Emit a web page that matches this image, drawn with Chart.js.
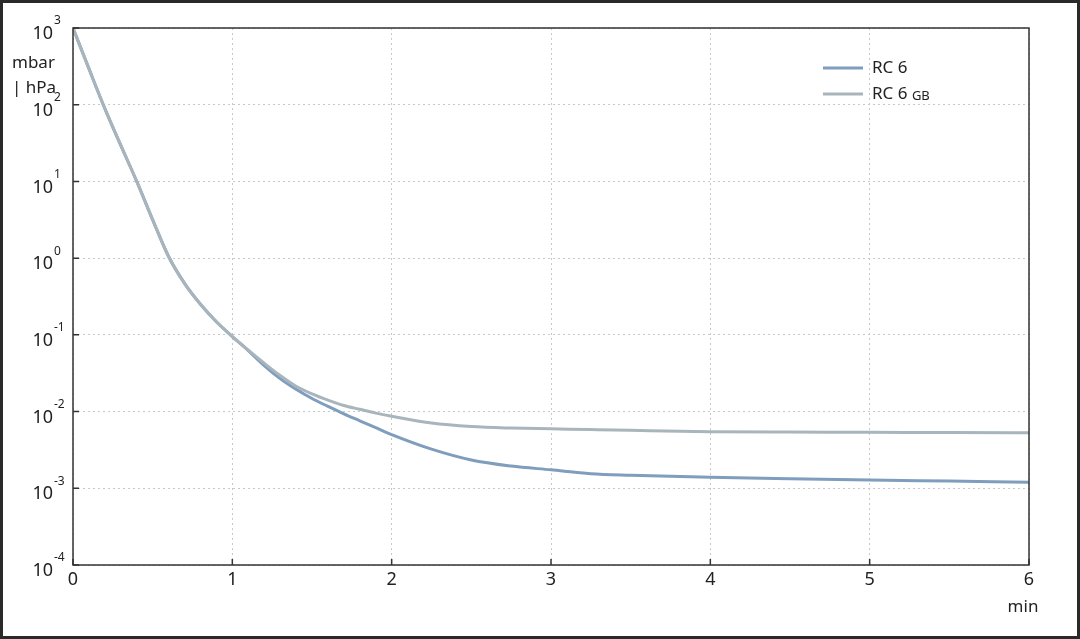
<!DOCTYPE html>
<html>
<head>
<meta charset="utf-8">
<script src="https://cdn.jsdelivr.net/npm/chart.js@4.4.1/dist/chart.umd.min.js"></script>
<style>
  html, body { margin: 0; padding: 0; background: #fff; }
  #wrap { width: 1080px; height: 639px; position: relative; }
</style>
</head>
<body>
<div id="wrap"><canvas id="pumpDown" width="1080" height="639"></canvas></div>
<script>
// pump-down time (min)
const times = [0, 0.1, 0.2, 0.3, 0.4, 0.5, 0.6, 0.7, 0.8, 0.9, 1.0, 1.1, 1.2, 1.3, 1.4, 1.5, 1.6, 1.7, 1.8, 1.9, 2.0, 2.25, 2.5, 2.75, 3.0, 3.25, 3.5, 4, 4.5, 5, 5.5, 6];
// pressure, mbar
const rc6 = [1000, 295, 89, 29.5, 10, 3.16, 1.05, 0.468, 0.25, 0.148, 0.095, 0.0625, 0.0398, 0.0269, 0.0195, 0.0148, 0.0117, 0.00933, 0.00759, 0.00617, 0.00501, 0.00324, 0.00234, 0.00195, 0.00174, 0.00155, 0.00148, 0.00139, 0.00133, 0.00128, 0.00124, 0.0012];
const rc6gb = [1000, 295, 89, 29.5, 10, 3.16, 1.05, 0.468, 0.25, 0.148, 0.095, 0.0631, 0.0427, 0.0295, 0.0214, 0.017, 0.0141, 0.012, 0.0107, 0.00955, 0.00871, 0.00708, 0.00638, 0.0061, 0.00596, 0.00582, 0.00569, 0.00547, 0.0054, 0.00537, 0.00533, 0.00531];
const seriesNames = ['RC 6', 'RC 6 GB'];
const seriesColors = ['#7f9dbd', '#a9b5bd'];
const xTicks = [0, 1, 2, 3, 4, 5, 6];
const yTicks = [1e-4, 1e-3, 1e-2, 1e-1, 1e0, 1e1, 1e2, 1e3];

const FONT = '"Noto Sans", "Open Sans", sans-serif';
const TEXT = '#222';

/**
 * Draws frame, box, inward ticks, tick labels with exponents and the legend
 */
const decorations = {
    id: 'decorations',
    afterDraw(chart) {
        const ctx = chart.ctx;
        const area = chart.chartArea;
        const xs = chart.scales.x;
        const ys = chart.scales.y;
        ctx.save();

        // outer frame
        ctx.strokeStyle = '#2a2a2a';
        ctx.lineWidth = 3;
        ctx.strokeRect(1.5, 1.5, chart.width - 3, chart.height - 3);

        // plot box
        ctx.strokeStyle = '#333';
        ctx.lineWidth = 1.5;
        ctx.strokeRect(area.left, area.top, area.right - area.left, area.bottom - area.top);

        // inward tick marks
        ctx.beginPath();
        xTicks.forEach(v => {
            const px = xs.getPixelForValue(v);
            ctx.moveTo(px, area.bottom);
            ctx.lineTo(px, area.bottom - 6);
        });
        yTicks.forEach(v => {
            const py = ys.getPixelForValue(v);
            ctx.moveTo(area.left, py);
            ctx.lineTo(area.left + 6, py);
        });
        ctx.stroke();

        ctx.fillStyle = TEXT;

        // x tick labels
        ctx.font = '18px ' + FONT;
        ctx.textAlign = 'center';
        ctx.textBaseline = 'middle';
        xTicks.forEach(v => {
            ctx.fillText(String(v), xs.getPixelForValue(v), area.bottom + 15);
        });
        ctx.font = '17px ' + FONT;
        ctx.fillText('min', xs.getPixelForValue(6) - 6, area.bottom + 42);

        // y tick labels as 10^n
        yTicks.forEach(v => {
            const py = ys.getPixelForValue(v);
            const exp = Math.round(Math.log10(v));
            ctx.font = '18px ' + FONT;
            ctx.textAlign = 'right';
            ctx.textBaseline = 'middle';
            ctx.fillText('10', area.left - 20, py + 6);
            ctx.font = '12px ' + FONT;
            ctx.textAlign = 'left';
            ctx.fillText(String(exp), area.left - 19, py - 7);
        });

        // unit label
        ctx.font = '17px ' + FONT;
        ctx.textAlign = 'left';
        ctx.fillText('mbar', 12, 63);
        ctx.fillText('| hPa', 12, 88);

        // legend
        const lx = 823, ly = 68, gap = 26;
        chart.data.datasets.forEach((ds, i) => {
            const y = ly + i * gap;
            ctx.strokeStyle = ds.borderColor;
            ctx.lineWidth = 3;
            ctx.beginPath();
            ctx.moveTo(lx, y);
            ctx.lineTo(lx + 40, y);
            ctx.stroke();
            ctx.fillStyle = TEXT;
            ctx.font = '17px ' + FONT;
            ctx.textAlign = 'left';
            ctx.fillText('RC 6', lx + 49, y);
            if (i === 1) {
                const w = ctx.measureText('RC 6 ').width;
                ctx.font = '13px ' + FONT;
                ctx.fillText('GB', lx + 49 + w, y + 2);
            }
        });

        ctx.restore();
    }
};

const ctx = document.getElementById('pumpDown').getContext('2d');
new Chart(ctx, {
    type: 'line',
    data: {
        datasets: [
            {
                label: seriesNames[0],
                data: times.map((t, i) => ({ x: t, y: rc6[i] })),
                borderColor: seriesColors[0],
                borderWidth: 3,
                pointRadius: 0,
                cubicInterpolationMode: 'monotone',
                fill: false,
                order: 1
            },
            {
                label: seriesNames[1],
                data: times.map((t, i) => ({ x: t, y: rc6gb[i] })),
                borderColor: seriesColors[1],
                borderWidth: 3,
                pointRadius: 0,
                cubicInterpolationMode: 'monotone',
                fill: false,
                order: 0
            }
        ]
    },
    options: {
        responsive: false,
        animation: false,
        devicePixelRatio: 1,
        layout: { padding: { left: 73, top: 28, right: 51, bottom: 74 } },
        plugins: {
            legend: { display: false },
            tooltip: { enabled: false }
        },
        scales: {
            x: {
                type: 'linear',
                min: 0,
                max: 6,
                afterBuildTicks: s => { s.ticks = xTicks.map(v => ({ value: v })); },
                afterFit: s => { s.height = 0; },
                ticks: { display: false },
                grid: { color: '#c8c8c8', drawTicks: false, lineWidth: 1 },
                border: { display: false, dash: [2, 3] }
            },
            y: {
                type: 'logarithmic',
                min: 1e-4,
                max: 1e3,
                afterBuildTicks: s => { s.ticks = yTicks.map(v => ({ value: v })); },
                afterFit: s => { s.width = 0; },
                ticks: { display: false },
                grid: { color: '#c8c8c8', drawTicks: false, lineWidth: 1 },
                border: { display: false, dash: [2, 3] }
            }
        }
    },
    plugins: [decorations]
});
</script>
</body>
</html>
